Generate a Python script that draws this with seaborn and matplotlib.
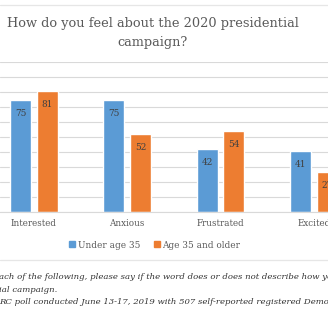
import matplotlib
matplotlib.use("Agg")
import matplotlib.pyplot as plt
from matplotlib.lines import Line2D
import seaborn as sns
import pandas as pd

categories = ["Interested", "Anxious", "Frustrated", "Excited"]
under_35 = [75, 75, 42, 41]
age_35_older = [81, 52, 54, 27]
series_names = ["Under age 35", "Age 35 and older"]
title = "How do you feel about the 2020 presidential\ncampaign?"
note_lines = [
    "ach of the following, please say if the word does or does not describe how you",
    "ial campaign.",
    "RC poll conducted June 13-17, 2019 with 507 self-reported registered Democrats",
]

df = pd.DataFrame({
    "category": categories * 2,
    "value": under_35 + age_35_older,
    "group": [series_names[0]] * len(categories) + [series_names[1]] * len(categories),
})

sns.set_theme(style="white")
plt.rcParams["font.family"] = ["DejaVu Serif"]

W = H = 328
fig = plt.figure(figsize=(3.28, 3.28), dpi=100)
fig.patch.set_facecolor("white")

# axes: value 0 at y=212px, 100 at y=62px; category 0 at x=33.75px, 93.4 px per category
ax = fig.add_axes([0, (H - 212) / H, 1, 150 / H])
palette = {series_names[0]: "#5B9BD5", series_names[1]: "#ED7D31"}
sns.barplot(data=df, x="category", y="value", hue="group", palette=palette,
            width=0.57, gap=0.21, ax=ax, legend=False, saturation=1)
ax.set_xlim(-33.75 / 93.4, (W - 33.75) / 93.4)
ax.set_ylim(0, 100)
ax.set_yticks(range(0, 101, 10))
ax.yaxis.grid(True, color="#D9D9D9", linewidth=0.8)
ax.set_axisbelow(True)
ax.tick_params(axis="y", left=False, labelleft=False)
ax.tick_params(axis="x", bottom=False, length=0, pad=5, labelsize=6.3, labelcolor="#595959")
ax.set_xlabel("")
ax.set_ylabel("")
for s in ["left", "right", "top"]:
    ax.spines[s].set_visible(False)
ax.spines["bottom"].set_color("#D9D9D9")
ax.spines["bottom"].set_linewidth(0.8)
ax.patch.set_alpha(0)

for cont in ax.containers:
    ax.bar_label(cont, fmt="%d", padding=-13, fontsize=6.4, color="#404040")

fig.text(153 / W, 1 - 33 / H, title, ha="center", va="center", fontsize=9.3,
         color="#595959", linespacing=1.65)

handles = [Line2D([], [], marker="s", linestyle="", markersize=4,
                  markerfacecolor=palette[n], markeredgecolor=palette[n]) for n in series_names]
fig.legend(handles, series_names, loc="center", bbox_to_anchor=(155 / W, 1 - 245 / H),
           ncol=2, frameon=False, fontsize=6.4, labelcolor="#595959",
           handlelength=0.6, handletextpad=0.3, columnspacing=1.6)

for y in (5, 260):
    fig.add_artist(Line2D([0, 1], [1 - y / H, 1 - y / H], color="#E6E6E6", linewidth=0.9,
                          transform=fig.transFigure))

for y, txt in zip((277, 290, 302), note_lines):
    fig.text(-1 / W, 1 - y / H, txt, ha="left", va="center", fontsize=6.1,
             style="italic", color="#333333")

fig.savefig("out.png", dpi=100, facecolor="white")
